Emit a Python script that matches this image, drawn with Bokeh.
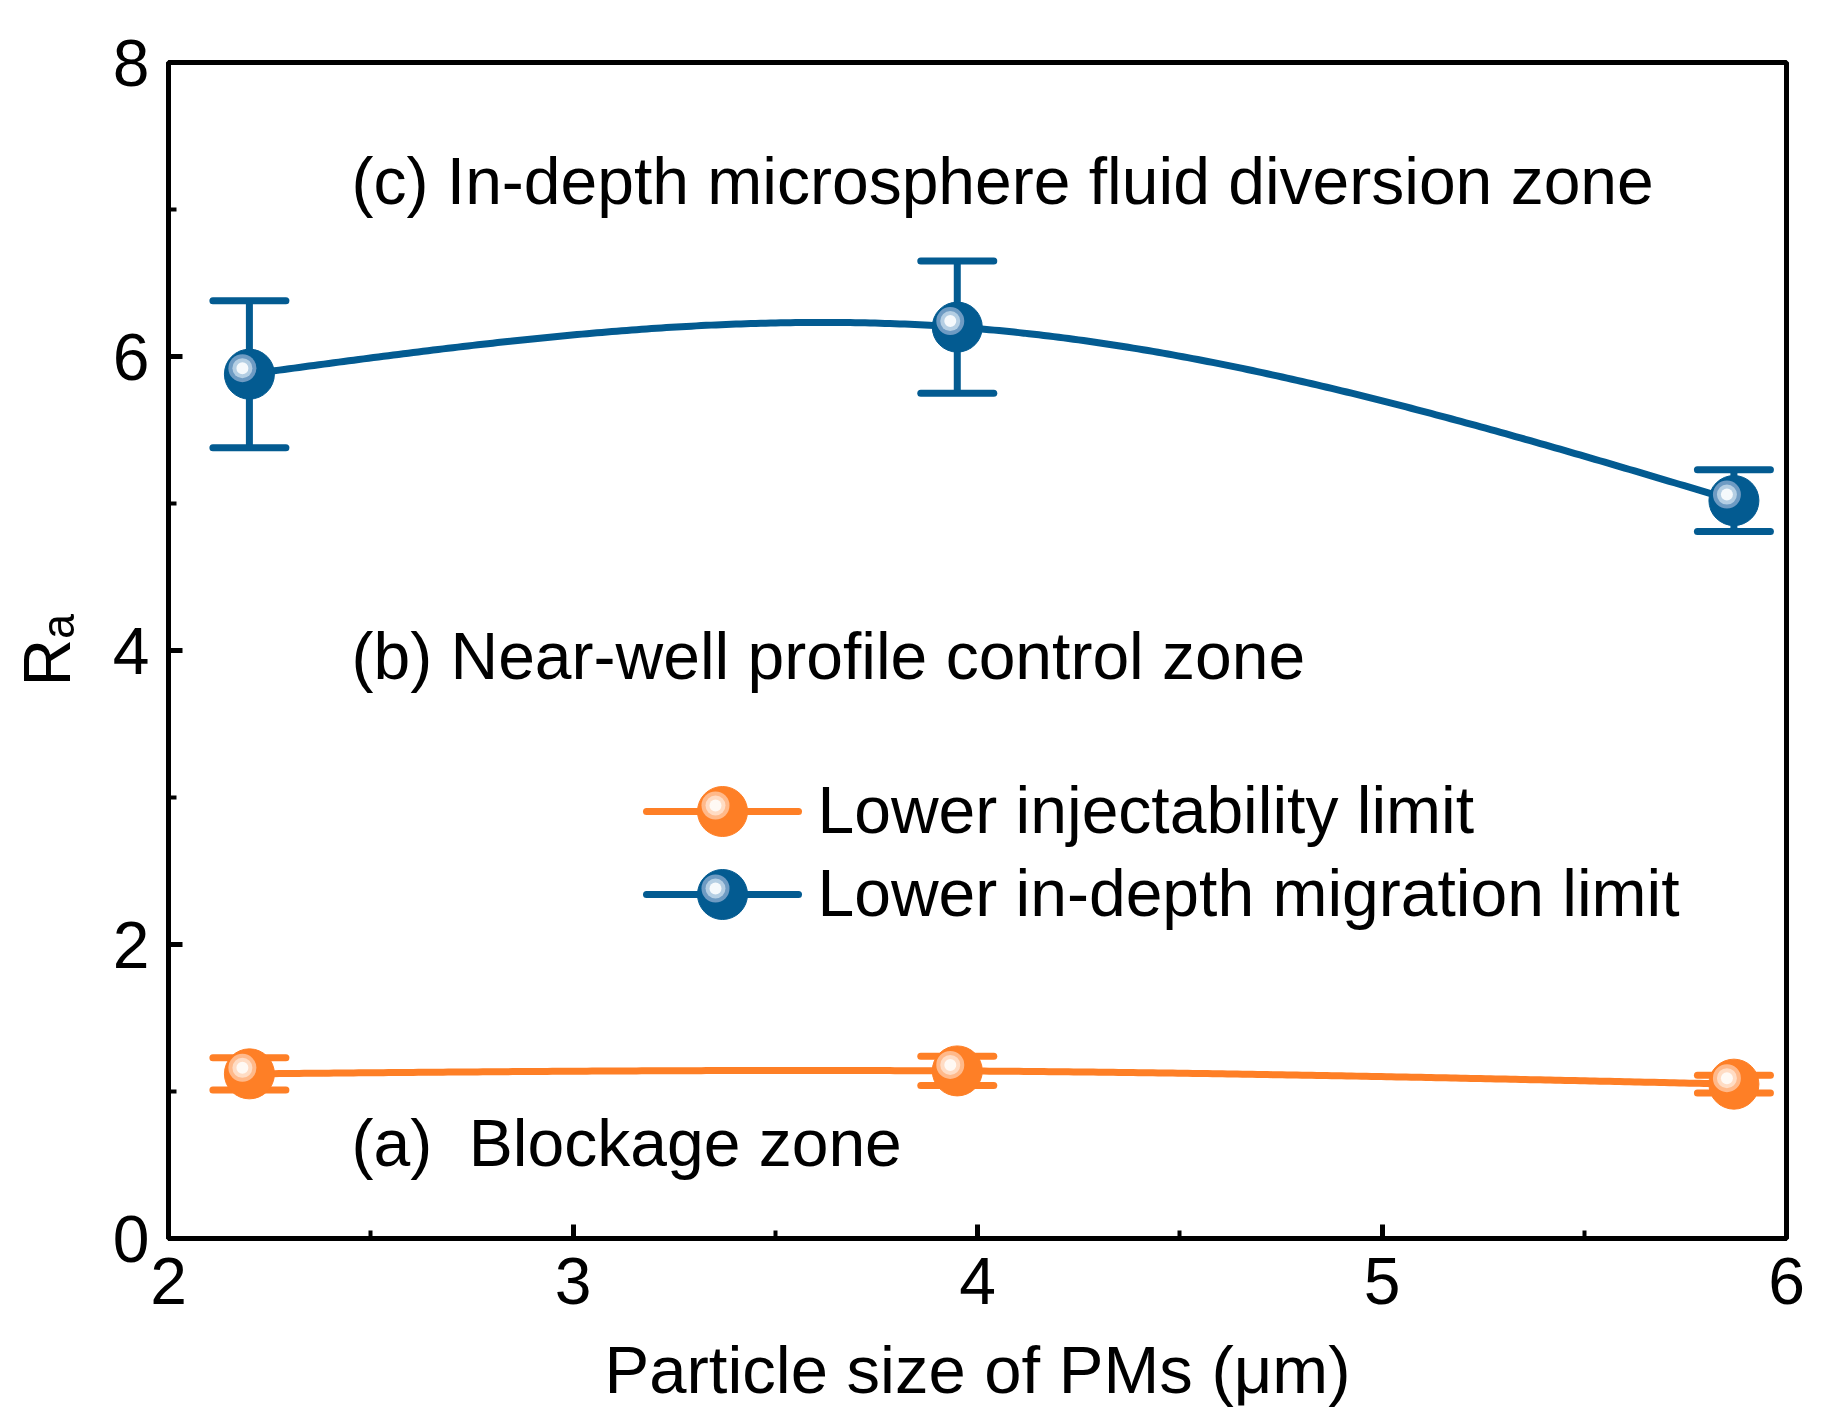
import numpy as np
from bokeh.plotting import figure
from bokeh.models import ColumnDataSource, Whisker, TeeHead, FixedTicker
from bokeh.core.properties import value
from bokeh.embed import file_html
from bokeh.resources import INLINE

# ---------------- data ----------------
particle_size = [2.2, 3.95, 5.87]
inject_limit = [1.12, 1.14, 1.05]
inject_err = [0.11, 0.10, 0.06]
migration_limit = [5.88, 6.20, 5.02]
migration_err = [0.50, 0.45, 0.21]
series_names = ["Lower injectability limit", "Lower in-depth migration limit"]
zone_labels = ["(a)\u00a0 Blockage zone", "(b) Near-well profile control zone",
               "(c) In-depth microsphere fluid diversion zone"]
x_ticks = [2, 3, 4, 5, 6]
y_ticks = [0, 2, 4, 6, 8]

# ---------------- style / layout ----------------
FONT = "Liberation Sans"
BLUE = "#035B91"
ORANGE = "#FE7F26"
BLUE_RINGS = ["#6E9BC3", "#B4CEE3", "#F5F9FC"]
ORANGE_RINGS = ["#FFB98A", "#FFDCC4", "#FFF9F4"]
FW, FH = 1618, 1176
LEFT, TOP = 168, 62
X0, X1, Y0, Y1 = 2, 6, 0, 8
PXX = FW / (X1 - X0)
PXY = FH / (Y1 - Y0)
HL_DX, HL_DY = -7.0 / PXX, 6.0 / PXY
TXT = 66
BASE_FIX = 0.38 * TXT  # svg text baseline correction
LW = 7
MARKER = 50
RING_SIZES = [28, 20, 12]


def dx(px):
    return X0 + (px - LEFT) / PXX


def dy_text(py):
    return (TOP + FH - (py - BASE_FIX)) / PXY


def dy(py):
    return (TOP + FH - py) / PXY


def natural_spline(xs, ys, n=300):
    xs = np.asarray(xs, float)
    ys = np.asarray(ys, float)
    k = len(xs)
    h = np.diff(xs)
    A = np.zeros((k, k))
    b = np.zeros(k)
    A[0, 0] = 1
    A[-1, -1] = 1
    for i in range(1, k - 1):
        A[i, i - 1] = h[i - 1]
        A[i, i] = 2 * (h[i - 1] + h[i])
        A[i, i + 1] = h[i]
        b[i] = 6 * ((ys[i + 1] - ys[i]) / h[i] - (ys[i] - ys[i - 1]) / h[i - 1])
    M = np.linalg.solve(A, b)
    xx = np.linspace(xs[0], xs[-1], n)
    yy = np.empty_like(xx)
    for j, x in enumerate(xx):
        i = min(np.searchsorted(xs, x, side="right") - 1, k - 2)
        t1 = xs[i + 1] - x
        t0 = x - xs[i]
        hi = h[i]
        yy[j] = (M[i] * t1 ** 3 / (6 * hi) + M[i + 1] * t0 ** 3 / (6 * hi)
                 + (ys[i] / hi - M[i] * hi / 6) * t1
                 + (ys[i + 1] / hi - M[i + 1] * hi / 6) * t0)
    return xx, yy


p = figure(frame_width=FW, frame_height=FH, x_range=(X0, X1), y_range=(Y0, Y1),
           output_backend="svg", toolbar_location=None,
           min_border_left=LEFT, min_border_right=36, min_border_top=TOP,
           min_border_bottom=176, background_fill_color="white",
           border_fill_color="white")
p.grid.visible = False
p.outline_line_color = "black"
p.outline_line_width = 5

p.xaxis.ticker = FixedTicker(ticks=x_ticks, minor_ticks=[2.5, 3.5, 4.5, 5.5])
p.yaxis.ticker = FixedTicker(ticks=y_ticks, minor_ticks=[1, 3, 5, 7])
for ax in (p.xaxis[0], p.yaxis[0]):
    ax.axis_line_width = 5
    ax.major_tick_line_width = 5
    ax.minor_tick_line_width = 4
    ax.major_tick_in = 14
    ax.major_tick_out = 0
    ax.minor_tick_in = 8
    ax.minor_tick_out = 0
    ax.major_label_text_font = FONT
    ax.major_label_text_font_size = "66px"
    ax.major_label_text_color = "black"
    ax.major_label_standoff = 19
    ax.axis_label_text_font = FONT
    ax.axis_label_text_font_style = "normal"
    ax.axis_label_text_color = "black"
p.xaxis.axis_label = "Particle size of PMs (μm)"
p.xaxis.axis_label_text_font_size = "67px"
p.xaxis.axis_label_standoff = 25
p.yaxis.axis_label = "R\u2090"
p.yaxis.axis_label_text_font_size = "66px"
p.yaxis.axis_label_standoff = 26

series = [
    (inject_limit, inject_err, ORANGE, ORANGE_RINGS),
    (migration_limit, migration_err, BLUE, BLUE_RINGS),
]

for ys, errs, col, rings in series:
    xx, yy = natural_spline(particle_size, ys)
    p.line(xx, yy, line_color=col, line_width=LW)
    src = ColumnDataSource(dict(
        x=particle_size,
        up=[v + e for v, e in zip(ys, errs)],
        lo=[v - e for v, e in zip(ys, errs)],
    ))
    w = Whisker(base="x", upper="up", lower="lo", source=src, level="underlay",
                line_color=col, line_width=LW,
                upper_head=TeeHead(size=73, line_color=col, line_width=LW, line_cap="round"),
                lower_head=TeeHead(size=73, line_color=col, line_width=LW, line_cap="round"))
    p.add_layout(w)

for ys, errs, col, rings in series:
    p.scatter(particle_size, ys, size=MARKER, fill_color=col, line_color=col, line_width=1)
    hx = [v + HL_DX for v in particle_size]
    hy = [v + HL_DY for v in ys]
    for r, s in zip(rings, RING_SIZES):
        p.scatter(hx, hy, size=s, fill_color=r, line_color=None)

# legend (manual, positions are layout in pixels)
LEG_X0, LEG_X1 = dx(646), dx(798)
LEG_XM = dx(722)
LEG_TX = dx(817)
LEG_ROWS = [811, 894]
for (ys, errs, col, rings), name, row in zip(series, series_names, LEG_ROWS):
    ly = dy(row)
    p.line([LEG_X0, LEG_X1], [ly, ly], line_color=col, line_width=LW, line_cap="round")
    p.scatter([LEG_XM], [ly], size=MARKER, fill_color=col, line_color=col, line_width=1)
    for r, s in zip(rings, RING_SIZES):
        p.scatter([LEG_XM + HL_DX], [ly + HL_DY], size=s, fill_color=r, line_color=None)
    p.text([LEG_TX], [dy_text(row + 24)], text=[name], text_font=value(FONT),
           text_font_size=value(f"{TXT}px"), text_baseline="alphabetic",
           text_align="left", text_color="black")

# zone annotations
zone_x = [dx(351)] * 3
zone_y = [dy_text(1168), dy_text(681), dy_text(206)]
p.text(zone_x, zone_y, text=zone_labels, text_font=value(FONT),
       text_font_size=value(f"{TXT}px"), text_baseline="alphabetic", text_align="left",
       text_color="black")

open("out.html", "w").write(file_html(p, INLINE))
